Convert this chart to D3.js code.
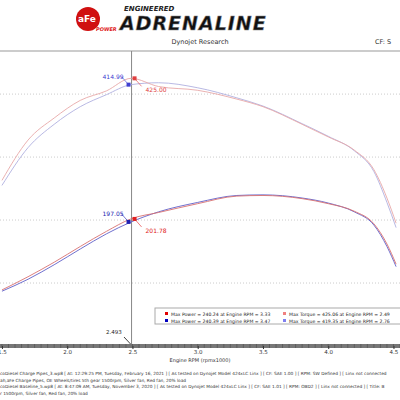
<!DOCTYPE html>
<html><head><meta charset="utf-8">
<script src="https://cdn.jsdelivr.net/npm/d3@7"></script>
<style>body{margin:0;background:#fff}text{font-family:"DejaVu Sans",sans-serif}</style>
</head><body>
<script>
// данные
var rpm        = [1.5, 1.7, 1.9, 2.1, 2.3, 2.49, 2.7, 3.0, 3.3, 3.5, 3.8, 4.0, 4.2, 4.35, 4.45, 4.52];
var torqueAfe  = [263, 327, 362, 390, 405, 425, 412, 406, 392, 380, 352, 332, 311, 280, 235, 195];
var torqueBase = [255, 315, 352, 380, 399, 415, 418, 410, 394, 381, 353, 333, 310, 277, 228, 188];
var powerAfe   = [89, 110, 133, 158, 182, 202, 212, 226, 238, 239, 234, 226, 214, 194, 162, 130];
var powerBase  = [87, 106, 129, 154, 178, 197, 213, 228, 239, 240, 235, 227, 213, 192, 158, 126];
var xTicks = [1.5, 2.0, 2.5, 3.0, 3.5, 4.0, 4.5];
var legend = [
  ["#e00000", "Max Power = 240.24 at Engine RPM = 3.33", "#f08080", "Max Torque = 425.06 at Engine RPM = 2.49"],
  ["#0000c0", "Max Power = 240.39 at Engine RPM = 3.47", "#8080f0", "Max Torque = 419.35 at Engine RPM = 2.76"]
];
var footer = [
  "coDiesel Charge Pipes_3.wp8 [ At: 12:29:25 PM, Tuesday, February 16, 2021 ] [ As tested on Dynojet Model 424xLC Linx ] [ CF: SAE 1.00 ] [ RPM: SW Defined ] [ Linx not connected",
  "ah,aFe Charge Pipes, OE Wheels/tires 5th gear 1500rpm, Silver fan, Red fan, 20% load",
  "coDiesel Baseline_5.wp8 [ At: 8:47:09 AM, Tuesday, November 3, 2020 ] [ As tested on Dynojet Model 424xLC Linx ] [ CF: SAE 1.01 ] [ RPM: OBD2 ] [ Linx not connected ] [ Title: B",
  "r 1500rpm, Silver fan, Red fan, 20% load"
];

var svg = d3.select("body").append("svg").attr("width", 400).attr("height", 400);

var x = d3.scaleLinear().domain([1.485, 4.55]).range([0, 400]);
var y = d3.scaleLinear().domain([0, 470]).range([346, 50]);

// шапка
svg.append("circle").attr("cx", 88).attr("cy", 19).attr("r", 12).attr("fill", "#d01010");
svg.append("text").attr("x", 78).attr("y", 22).attr("font-size", 9).attr("font-weight", "bold")
  .attr("fill", "#fff").text("aFe");
svg.append("text").attr("x", 96).attr("y", 31).attr("font-size", 5).attr("font-style", "italic")
  .attr("font-weight", "bold").attr("fill", "#e02020").text("POWER");
svg.append("text").attr("x", 124).attr("y", 11).attr("font-size", 7).attr("font-weight", "bold")
  .attr("font-style", "italic").attr("fill", "#222").text("ENGINEERED");
svg.append("text").attr("x", 120).attr("y", 30).attr("font-size", 19).attr("font-weight", "bold")
  .attr("font-style", "italic").attr("letter-spacing", 1).attr("fill", "#111")
  .attr("stroke", "#888").attr("stroke-width", 0.5).text("ADRENALINE");
svg.append("text").attr("x", 200).attr("y", 44).attr("text-anchor", "middle").attr("font-size", 6.5)
  .attr("fill", "#333").text("Dynojet Research");
svg.append("text").attr("x", 375).attr("y", 44).attr("font-size", 6.5).attr("fill", "#333").text("CF: S");

// рамка и сетка
svg.append("line").attr("x1", 0).attr("x2", 400).attr("y1", 51).attr("y2", 51).attr("stroke", "#999");
svg.append("g").selectAll("line").data([100, 200, 300, 400]).join("line")
  .attr("x1", 0).attr("x2", 400).attr("y1", d => y(d)).attr("y2", d => y(d))
  .attr("stroke", "#ccc").attr("stroke-dasharray", "1,2");

// курсор
svg.append("line").attr("x1", x(2.493)).attr("x2", x(2.493)).attr("y1", 51).attr("y2", 346)
  .attr("stroke", "#888");

var line = d3.line().x((d, i) => x(rpm[i])).y(d => y(d)).curve(d3.curveMonotoneX);
[[torqueBase, "#b0b0e0"], [torqueAfe, "#e8a8a8"], [powerBase, "#6060c8"], [powerAfe, "#d87070"]]
  .forEach(function (s) {
    svg.append("path").attr("d", line(s[0])).attr("fill", "none").attr("stroke", s[1]).attr("stroke-width", 0.9);
  });

// маркеры курсора
var marks = [[414.99, "#4040d0", -1], [425.0, "#e04040", 1], [197.05, "#2020b0", -1], [201.78, "#e02020", 1]];
marks.forEach(function (m) {
  var cx = x(2.493), cy = y(m[0]);
  svg.append("rect").attr("x", cx + (m[2] < 0 ? -5 : 1)).attr("y", cy - 2).attr("width", 4).attr("height", 4).attr("fill", m[1]);
  svg.append("line").attr("x1", cx + m[2] * 3).attr("y1", cy).attr("x2", cx + m[2] * 10).attr("y2", cy + m[2] * 8)
    .attr("stroke", m[1]).attr("stroke-width", 0.6);
  svg.append("text").attr("x", cx + m[2] * (m[2] < 0 ? 8 : 14)).attr("y", cy + (m[2] < 0 ? -6 : 14))
    .attr("text-anchor", m[2] < 0 ? "end" : "start").attr("font-size", 6).attr("fill", m[1]).text(m[0].toFixed(2));
});

// легенда
var leg = svg.append("g");
leg.append("rect").attr("x", 155).attr("y", 308).attr("width", 250).attr("height", 16)
  .attr("fill", "#fff").attr("stroke", "#aaa");
legend.forEach(function (r, i) {
  var yy = 315 + i * 7;
  leg.append("rect").attr("x", 165).attr("y", yy - 3).attr("width", 3).attr("height", 3).attr("fill", r[0]);
  leg.append("text").attr("x", 171).attr("y", yy + 0.5).attr("font-size", 4.6).attr("fill", "#222").text(r[1]);
  leg.append("rect").attr("x", 283).attr("y", yy - 3).attr("width", 3).attr("height", 3).attr("fill", r[2]);
  leg.append("text").attr("x", 289).attr("y", yy + 0.5).attr("font-size", 4.6).attr("fill", "#222").text(r[3]);
});

// ось X
svg.append("rect").attr("x", 0).attr("y", 344).attr("width", 400).attr("height", 4).attr("fill", "#777");
var ax = svg.append("g").attr("transform", "translate(0,346)")
  .call(d3.axisBottom(x).tickValues(xTicks).tickFormat(d3.format(".1f")).tickSize(3).tickPadding(1));
ax.select(".domain").remove();
ax.selectAll("line").attr("stroke", "#333");
ax.selectAll("text").attr("font-size", 5.5).attr("fill", "#333").attr("font-family", "DejaVu Sans");
svg.append("g").selectAll("line").data(d3.range(1.5, 4.56, 0.05)).join("line")
  .attr("x1", d => x(d)).attr("x2", d => x(d)).attr("y1", 344).attr("y2", 348).attr("stroke", "#444").attr("stroke-width", 0.5);
svg.append("text").attr("x", 200).attr("y", 362).attr("text-anchor", "middle").attr("font-size", 5)
  .attr("fill", "#333").text("Engine RPM (rpmx1000)");

// метка 2.493
svg.append("text").attr("x", 106).attr("y", 334).attr("font-size", 5.5).attr("fill", "#222").text("2.493");
svg.append("line").attr("x1", 124).attr("y1", 337).attr("x2", x(2.493) - 1).attr("y2", 344).attr("stroke", "#111").attr("stroke-width", 0.8);

// подвал
svg.append("g").selectAll("text").data(footer).join("text")
  .attr("x", 0).attr("y", (d, i) => 375 + i * 6.7)
  .attr("font-size", 4.3).attr("fill", "#333").text(d => d);
</script>
</body></html>
